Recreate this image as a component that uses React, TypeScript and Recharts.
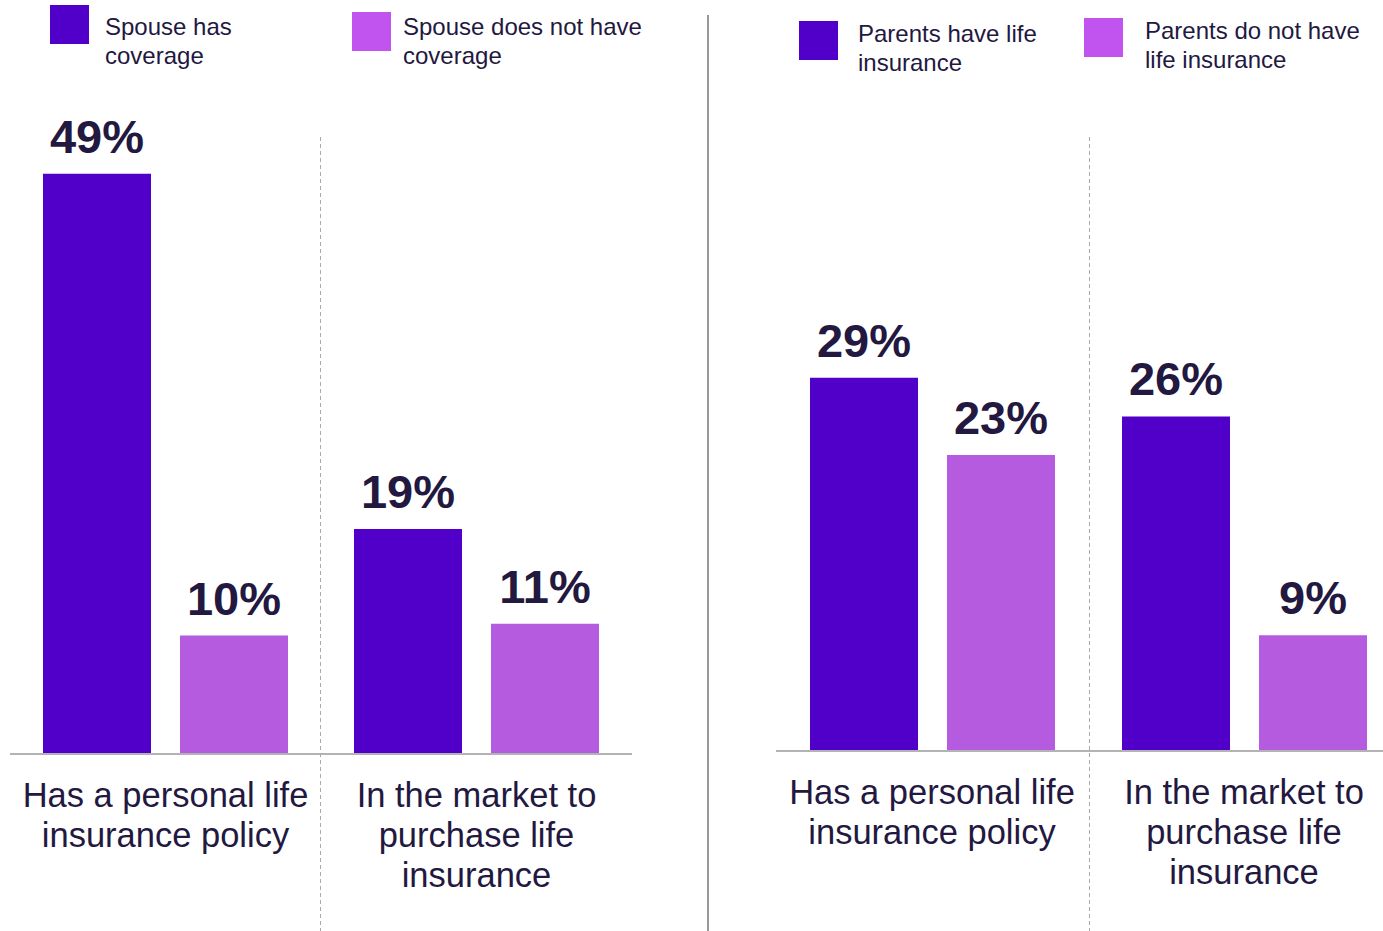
import { BarChart, Bar, XAxis, YAxis, Legend, LabelList } from 'recharts';

const categories = ['Has a personal life insurance policy', 'In the market to purchase life insurance'];
const categoryLines = [
  ['Has a personal life', 'insurance policy'],
  ['In the market to', 'purchase life', 'insurance'],
];

const spouseHas = [49, 19];
const spouseNot = [10, 11];
const parentsHave = [29, 26];
const parentsNot = [23, 9];

const seriesNames = {
  spouseHas: 'Spouse has coverage',
  spouseNot: 'Spouse does not have coverage',
  parentsHave: 'Parents have life insurance',
  parentsNot: 'Parents do not have life insurance',
};

const DARK = '#5000c8';
const LIGHT = '#b55be0';
const LIGHT_SWATCH = '#c154ee';
const TEXT = '#23183f';
const FONT = '"Liberation Sans", Arial, Helvetica, sans-serif';

const spouseData = categories.map((c, i) => ({ category: c, spouseHas: spouseHas[i], spouseNot: spouseNot[i] }));
const parentsData = categories.map((c, i) => ({ category: c, parentsHave: parentsHave[i], parentsNot: parentsNot[i] }));

// legend item placement, in each chart's own coordinates
const legendPos: Record<string, { sx: number; sy: number; tx: number; ty: number; w: number }> = {
  spouseHas: { sx: 50, sy: 5, tx: 105, ty: 12, w: 170 },
  spouseNot: { sx: 352, sy: 12, tx: 403, ty: 12, w: 270 },
  parentsHave: { sx: 99, sy: 21, tx: 158, ty: 19, w: 205 },
  parentsNot: { sx: 384, sy: 18, tx: 445, ty: 16, w: 236 },
};

function CategoryTick(props: any) {
  const { x, y, payload, index } = props;
  const lines = categoryLines[payload?.index ?? index] || [payload.value];
  return (
    <text x={x} y={y} textAnchor="middle" fill={TEXT} fontSize={34.5} fontFamily={FONT}>
      {lines.map((l: string, i: number) => (
        <tspan key={i} x={x} dy={i === 0 ? 53 : 40}>
          {l}
        </tspan>
      ))}
    </text>
  );
}

function ValueLabel(props: any) {
  const { x, y, width, value } = props;
  return (
    <text x={x + width / 2} y={y - 21} textAnchor="middle" fill={TEXT} fontSize={47} fontWeight={700} fontFamily={FONT}>
      {value}%
    </text>
  );
}

function LegendBox({ payload }: any) {
  return (
    <div style={{ position: 'relative', width: 700, height: 100, fontFamily: FONT }}>
      {(payload || []).map((p: any) => {
        const pos = legendPos[p.dataKey];
        if (!pos) return null;
        return (
          <div key={p.dataKey}>
            <div
              style={{
                position: 'absolute',
                left: pos.sx,
                top: pos.sy,
                width: 39,
                height: 39,
                background: p.color === LIGHT ? LIGHT_SWATCH : p.color,
              }}
            />
            <div
              style={{
                position: 'absolute',
                left: pos.tx,
                top: pos.ty,
                width: pos.w,
                fontSize: 24,
                lineHeight: '29px',
                color: TEXT,
                textAlign: 'left',
              }}
            >
              {p.value}
            </div>
          </div>
        );
      })}
    </div>
  );
}

function Panel({ data, keys, max, top, bottom, left, right }: any) {
  return (
    <BarChart
      width={700}
      height={931}
      data={data}
      margin={{ top, right, bottom: 0, left }}
      barSize={108}
      barGap={29}
    >
      <XAxis
        dataKey="category"
        height={bottom}
        tick={<CategoryTick />}
        tickLine={false}
        tickSize={0}
        tickMargin={0}
        interval={0}
        axisLine={{ stroke: '#b3b3b3', strokeWidth: 2 }}
      />
      <YAxis hide domain={[0, max]} />
      <Legend
        layout="horizontal"
        verticalAlign="middle"
        align="center"
        wrapperStyle={{ top: 0, left: 0, width: 700, height: 100 }}
        content={<LegendBox />}
      />
      {keys.map((k: string, i: number) => (
        <Bar key={k} dataKey={k} name={(seriesNames as any)[k]} fill={i === 0 ? DARK : LIGHT} isAnimationActive={false}>
          <LabelList dataKey={k} content={<ValueLabel />} />
        </Bar>
      ))}
    </BarChart>
  );
}

export default function App() {
  return (
    <div
      style={{
        position: 'absolute',
        left: 0,
        top: 0,
        width: 1383,
        height: 931,
        overflow: 'hidden',
        background: '#fff',
        fontFamily: FONT,
      }}
    >
      <div style={{ position: 'absolute', left: 0, top: 0 }}>
        <Panel data={spouseData} keys={['spouseHas', 'spouseNot']} max={50} top={162} bottom={177} left={10} right={68} />
      </div>
      <div style={{ position: 'absolute', left: 700, top: 0 }}>
        <Panel data={parentsData} keys={['parentsHave', 'parentsNot']} max={30} top={365} bottom={180} left={76} right={0} />
      </div>
      <svg width={1383} height={931} style={{ position: 'absolute', left: 0, top: 0, pointerEvents: 'none' }}>
        <line x1={708} y1={15} x2={708} y2={931} stroke="#999" strokeWidth={2} />
        <line x1={320.5} y1={137} x2={320.5} y2={931} stroke="#aaa" strokeWidth={1} strokeDasharray="4 3" />
        <line x1={1089.5} y1={137} x2={1089.5} y2={931} stroke="#aaa" strokeWidth={1} strokeDasharray="4 3" />
      </svg>
    </div>
  );
}
